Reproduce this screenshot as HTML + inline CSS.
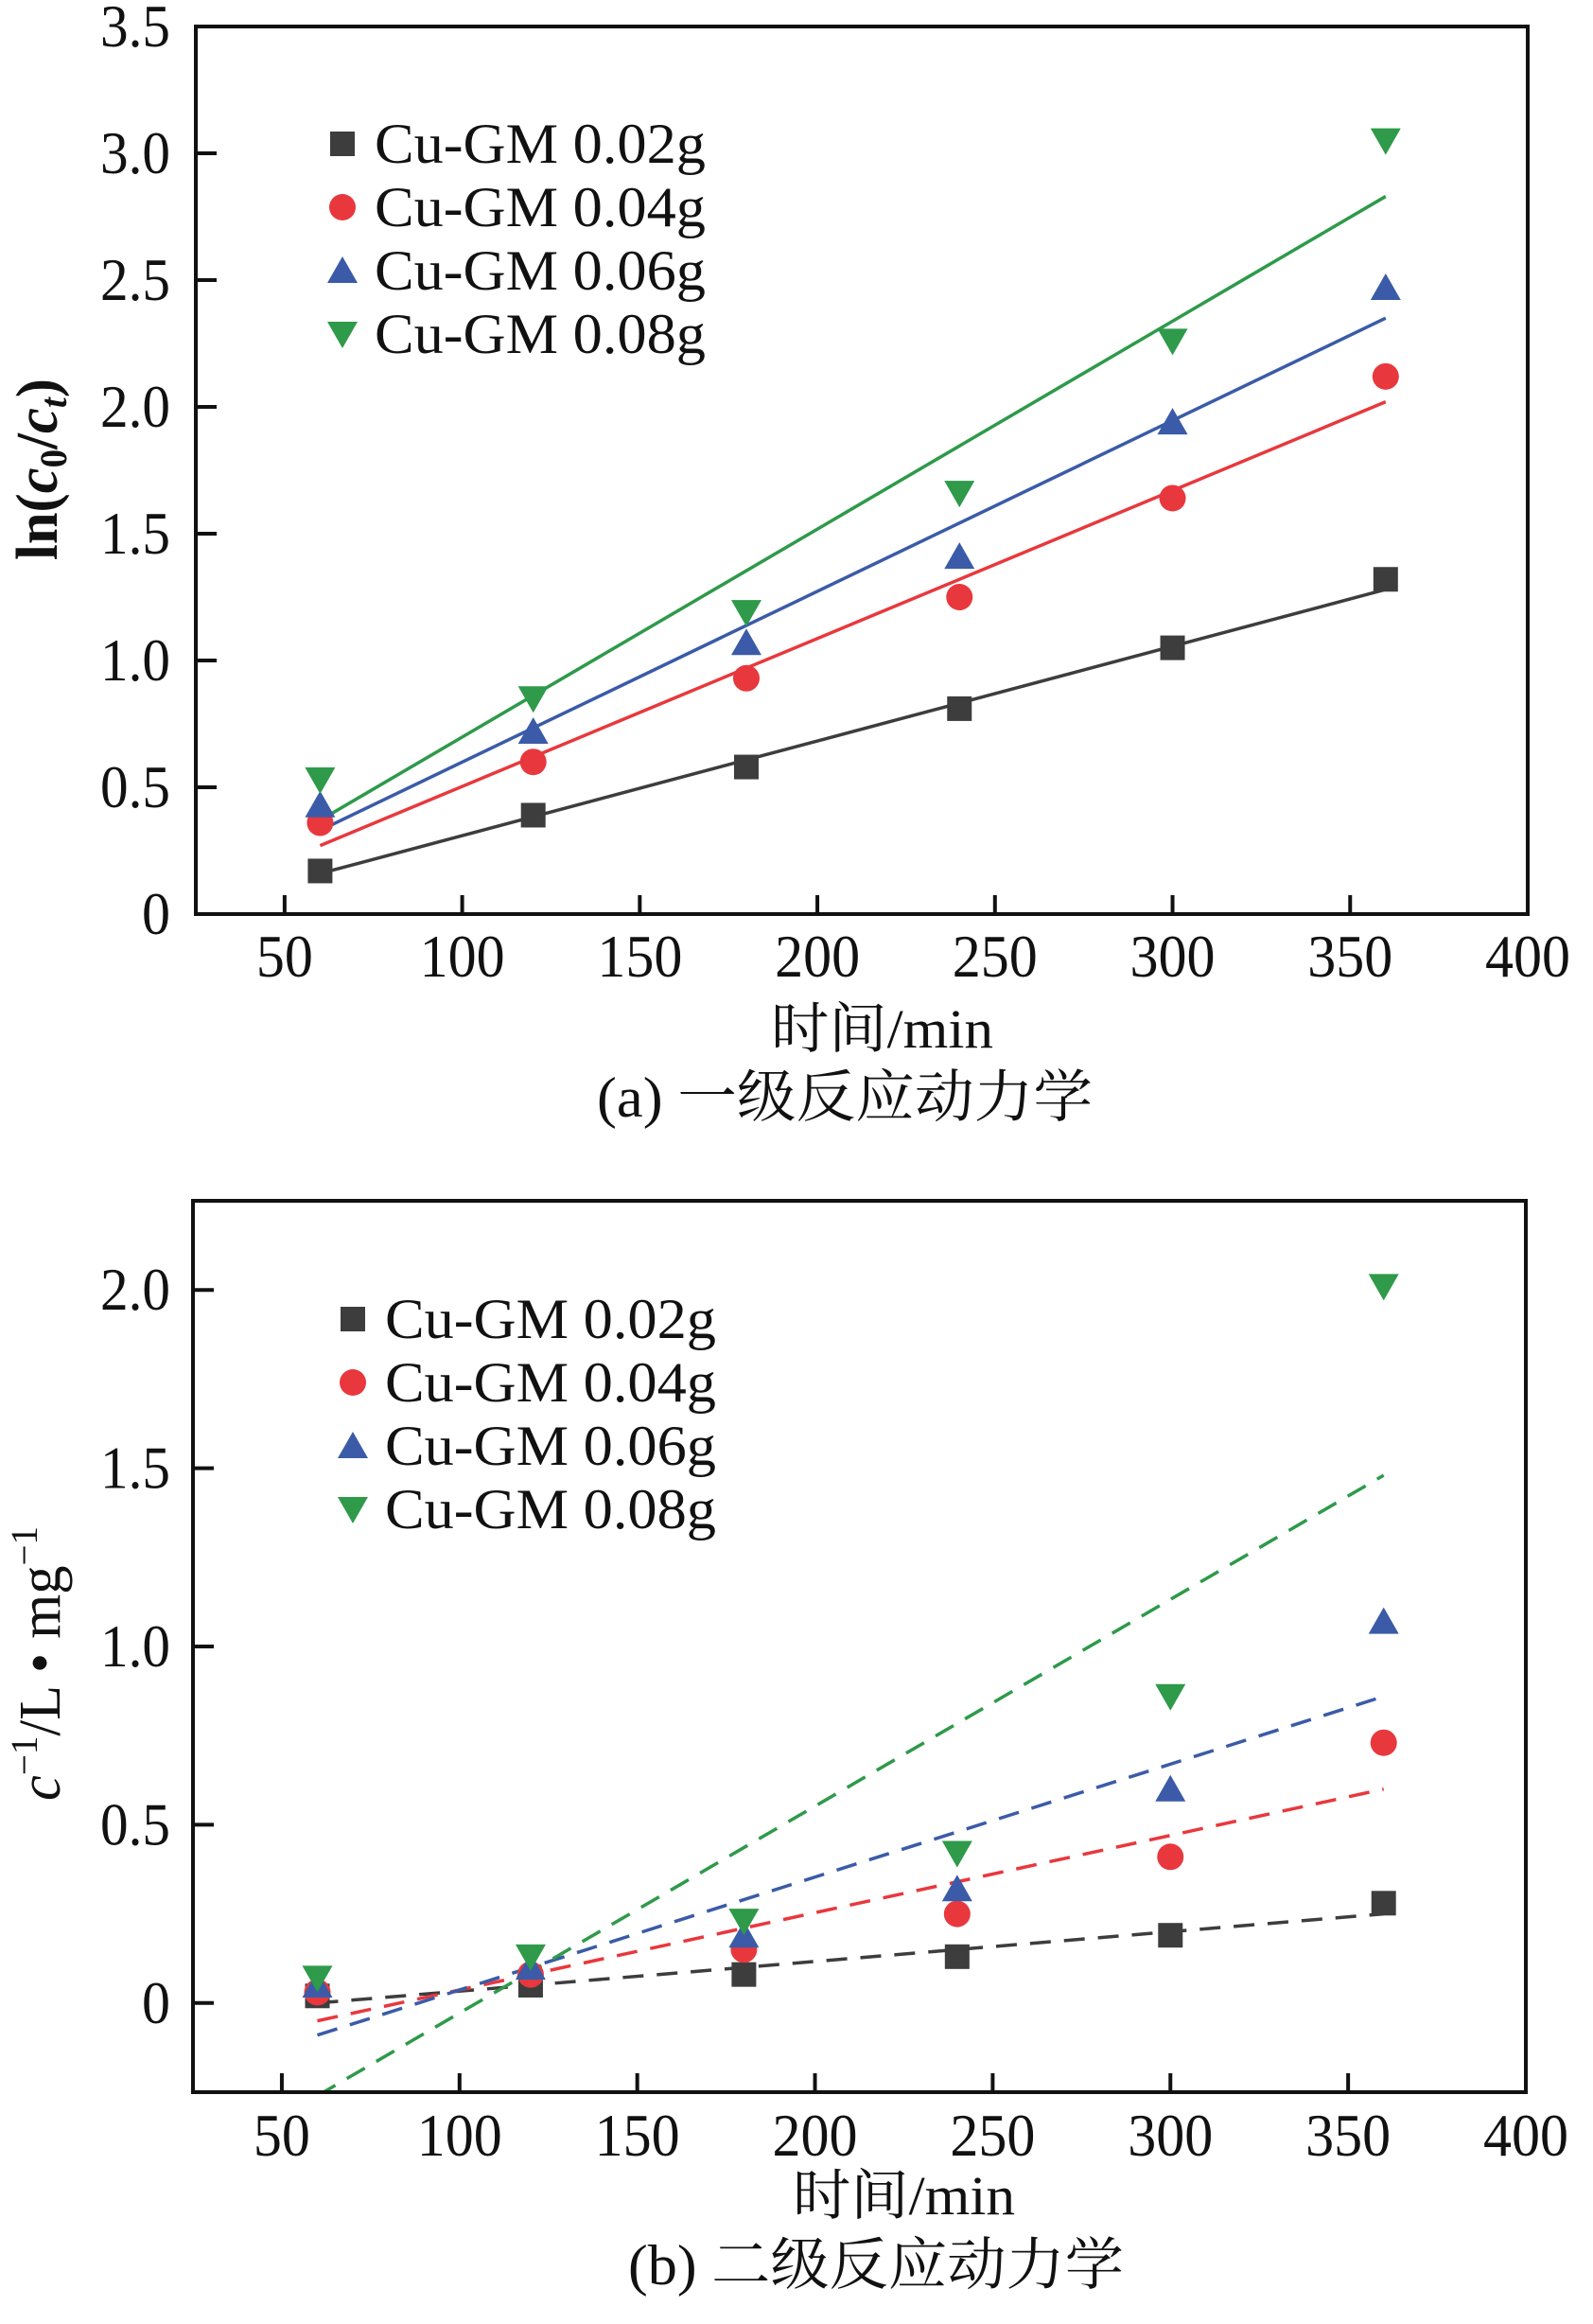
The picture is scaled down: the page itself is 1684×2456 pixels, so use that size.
<!DOCTYPE html>
<html><head><meta charset="utf-8"><style>
html,body{margin:0;padding:0;background:#fff;}
svg{display:block;}
text{font-family:"Liberation Serif","Noto Serif CJK SC",serif;fill:#111;}
</style></head><body>
<svg id="fig" width="1684" height="2456" viewBox="0 0 1684 2456"></svg>
<script>
// ---------- data ----------
const times = [60,120,180,240,300,360];
const seriesNames = ["Cu-GM 0.02g","Cu-GM 0.04g","Cu-GM 0.06g","Cu-GM 0.08g"];
const colors = ["#3d3d3d","#e8383d","#3b5ba8","#2e9a4a"];
const markers = ["square","circle","up","down"];
const xTicks = [50,100,150,200,250,300,350,400];
// chart a
const aY002 = [0.17,0.39,0.58,0.81,1.05,1.32];
const aY004 = [0.36,0.60,0.93,1.25,1.64,2.12];
const aY006 = [0.43,0.72,1.07,1.41,1.94,2.47];
const aY008 = [0.53,0.85,1.19,1.66,2.26,3.05];
const aFitStart = [0.16,0.27,0.33,0.37];
const aFitEnd = [1.28,2.02,2.35,2.83];
const aYTicks = [0,0.5,1.0,1.5,2.0,2.5,3.0,3.5];
const aYLabels = ["0","0.5","1.0","1.5","2.0","2.5","3.0","3.5"];
// chart b
const bY002 = [0.02,0.05,0.08,0.13,0.19,0.28];
const bY004 = [0.03,0.08,0.15,0.25,0.41,0.73];
const bY006 = [0.05,0.10,0.19,0.32,0.60,1.07];
const bY008 = [0.07,0.13,0.23,0.42,0.86,2.01];
const bFitStart = [0.0,-0.05,-0.09,-0.26];
const bFitEnd = [0.25,0.60,0.86,1.48];
const bYTicks = [0,0.5,1.0,1.5,2.0];
const bYLabels = ["0","0.5","1.0","1.5","2.0"];

const NS="http://www.w3.org/2000/svg";
const svg=document.getElementById('fig');
function mk(tag,attrs,parent){const e=document.createElementNS(NS,tag);for(const k in attrs)e.setAttribute(k,attrs[k]);(parent||svg).appendChild(e);return e;}

function chart(cfg){
  const g=mk('g',{});
  
  
  const L=cfg.L,R=cfg.R,T=cfg.T,B=cfg.B;
  const sx=v=>L+(v-25)/(400-25)*(R-L);
  const sy=v=>B-(v-cfg.ymin)/(cfg.ymax-cfg.ymin)*(B-T);
  const cid='clip-'+cfg.name;
  const cp=mk('clipPath',{id:cid},g);mk('rect',{x:L,y:T,width:R-L,height:B-T},cp);
  cfg.fitS.forEach((s,i)=>{
    const ln=mk('line',{x1:sx(60),y1:sy(s),x2:sx(360),y2:sy(cfg.fitE[i]),stroke:colors[i],'stroke-width':3.5,'clip-path':'url(#'+cid+')'},g);
    if(cfg.dash) ln.setAttribute('stroke-dasharray','22 14');
    
    
  });
  cfg.series.forEach((arr,i)=>{
    arr.forEach((v,j)=>{
      const m=drawMarker(g,markers[i],sx(times[j]),sy(v),colors[i],13);
      
      
    });
  });
  const fr=mk('rect',{x:L,y:T,width:R-L,height:B-T,fill:'none',stroke:'#111','stroke-width':4},g);
  
  
  xTicks.forEach(t=>{
    const x=sx(t);
    if(t<400) mk('line',{x1:x,y1:B,x2:x,y2:B-20,stroke:'#111','stroke-width':4},g);
    const tx=mk('text',{x:x,y:cfg.xLabY,'font-size':64,'text-anchor':'middle',textLength:String(t).length*30,lengthAdjust:'spacingAndGlyphs'},g);
    tx.textContent=t;
    
    
  });
  cfg.yTicks.forEach((t,k)=>{
    const y=sy(t);
    mk('line',{x1:L,y1:y,x2:L+22,y2:y,stroke:'#111','stroke-width':4},g);
    const lab=cfg.yLabels[k];
    const w=lab.length>1?(lab.length-1)*30+14:30;
    const ty=mk('text',{x:180,y:y+21,'font-size':64,'text-anchor':'end',textLength:w,lengthAdjust:'spacingAndGlyphs'},g);
    ty.textContent=lab;
    
    
  });
  seriesNames.forEach((n,i)=>{
    const y=cfg.legY+i*67;
    const m=drawMarker(g,markers[i],cfg.legX,y,colors[i],13);
    
    
    const t=mk('text',{x:cfg.legX+34,y:y+20,'font-size':60,textLength:350,lengthAdjust:'spacingAndGlyphs'},g);
    t.textContent=n;
    
    
  });
  return g;
}
function drawMarker(g,type,x,y,c,r){
  if(type==='square') return mk('rect',{x:x-r,y:y-r,width:2*r,height:2*r,fill:c},g);
  if(type==='circle') return mk('circle',{cx:x,cy:y,r:r+1,fill:c},g);
  if(type==='up') return mk('polygon',{points:`${x},${y-r-2} ${x-r-3},${y+r} ${x+r+3},${y+r}`,fill:c},g);
  return mk('polygon',{points:`${x},${y+r+2} ${x-r-3},${y-r} ${x+r+3},${y-r}`,fill:c},g);
}

chart({name:'chart-a',L:207,R:1615,T:28,B:966,ymin:0,ymax:3.5,series:[aY002,aY004,aY006,aY008],fitS:aFitStart,fitE:aFitEnd,dash:false,yTicks:aYTicks,yLabels:aYLabels,xLabY:1032,legX:362,legY:152});
chart({name:'chart-b',L:204,R:1613,T:1269,B:2211,ymin:-0.25,ymax:2.25,series:[bY002,bY004,bY006,bY008],fitS:bFitStart,fitE:bFitEnd,dash:true,yTicks:bYTicks,yLabels:bYLabels,xLabY:2278,legX:373,legY:1394});
</script>
<script>
(function(){
const NS="http://www.w3.org/2000/svg";const svg=document.getElementById('fig');
function t(x,y,size,str,name,attrs){const e=document.createElementNS(NS,'text');e.setAttribute('x',x);e.setAttribute('y',y);e.setAttribute('font-size',size);for(const k in (attrs||{}))e.setAttribute(k,attrs[k]);e.textContent=str;svg.appendChild(e);


return e;}
t(815,1107,58,'时间/min','x-axis-title-a',{textLength:235,lengthAdjust:'spacingAndGlyphs'});
t(631,1180,60,'(a) 一级反应动力学','caption-a',{textLength:524,lengthAdjust:'spacingAndGlyphs'});
t(838,2340,58,'时间/min','x-axis-title-b',{textLength:235,lengthAdjust:'spacingAndGlyphs'});
t(664,2414,60,'(b) 二级反应动力学','caption-b',{textLength:524,lengthAdjust:'spacingAndGlyphs'});
const ya=t(0,0,62,'','y-axis-title-a',{transform:'translate(60,592) rotate(-90)','font-weight':'bold',textLength:192,lengthAdjust:'spacingAndGlyphs'});
ya.innerHTML='ln(<tspan font-style="italic">c</tspan><tspan font-size="40" dy="10">0</tspan><tspan dy="-10">/</tspan><tspan font-style="italic">c</tspan><tspan font-size="40" font-style="italic" dy="10">t</tspan><tspan dy="-10">)</tspan>';
const yb=t(0,0,62,'','y-axis-title-b',{transform:'translate(63,1903) rotate(-90)',textLength:290,lengthAdjust:'spacingAndGlyphs'});
yb.innerHTML='<tspan font-style="italic">c</tspan><tspan font-size="40" dy="-24">−1</tspan><tspan dy="24">/L • mg</tspan><tspan font-size="40" dy="-24">−1</tspan>';
})();
</script>
</body></html>
